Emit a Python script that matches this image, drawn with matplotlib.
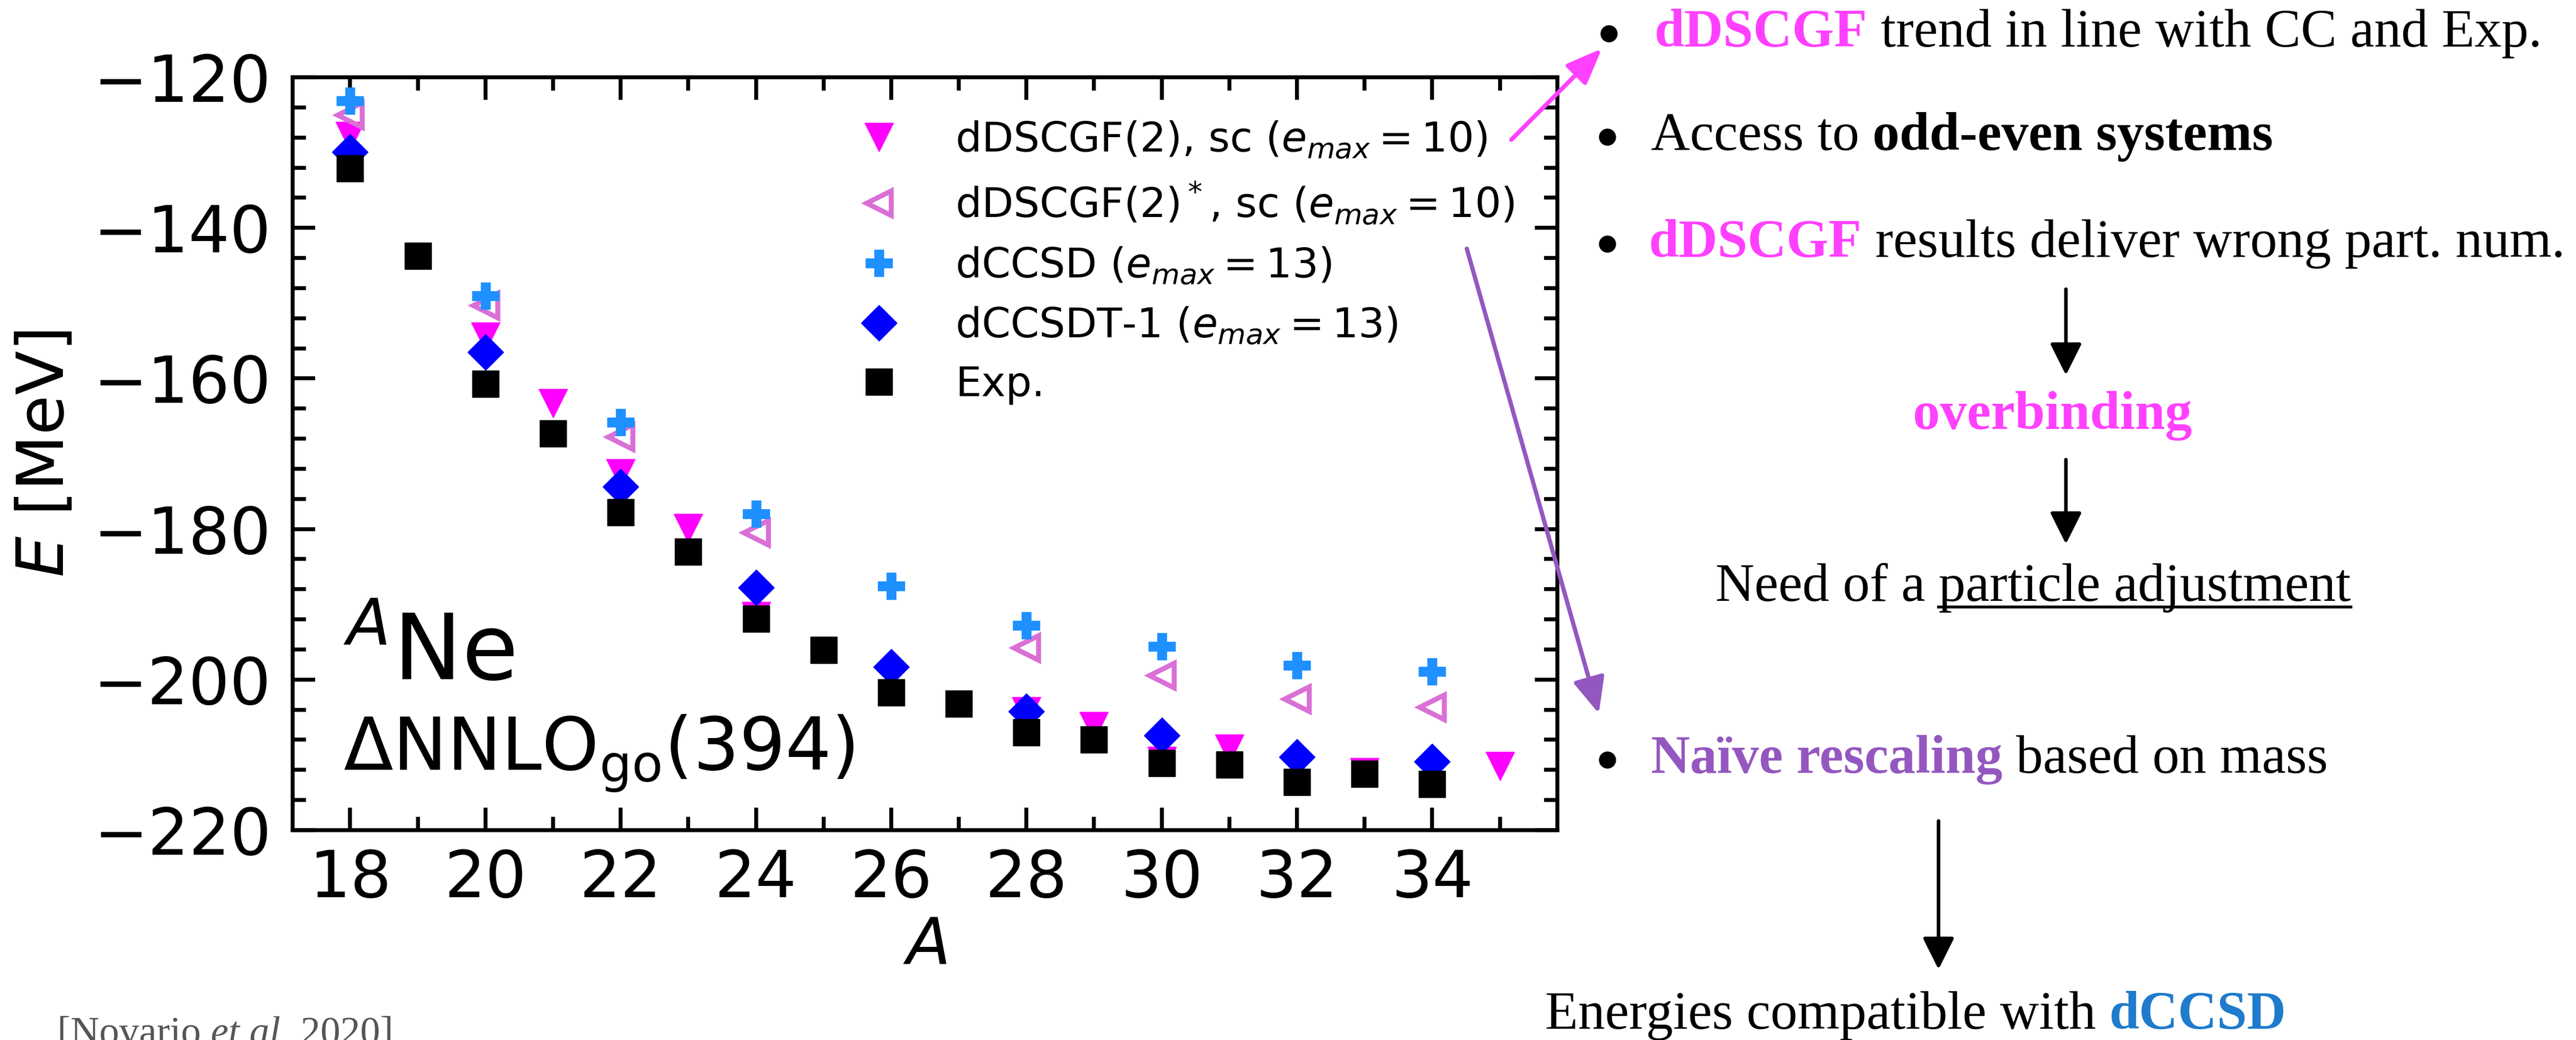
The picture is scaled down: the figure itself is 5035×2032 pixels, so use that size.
import matplotlib
matplotlib.use("Agg")
import matplotlib.pyplot as plt
from matplotlib.ticker import MultipleLocator
from matplotlib.patches import Circle
from matplotlib.lines import Line2D

# ---------------- data ----------------
A_sc = [18, 20, 21, 22, 23, 24, 28, 29, 30, 31, 33, 35]
E_sc = [-127.8, -154.5, -163.3, -172.6, -179.9, -191.6, -204.2, -206.2, -210.8, -209.2, -212.3, -211.5]

A_scs = [18, 20, 22, 24, 28, 30, 32, 34]
E_scs = [-125.0, -150.3, -167.8, -180.5, -195.8, -199.5, -202.6, -203.7]

A_ccsd = [18, 20, 22, 24, 26, 28, 30, 32, 34]
E_ccsd = [-123.1, -149.0, -165.8, -178.0, -187.6, -192.8, -195.6, -198.1, -198.9]

A_cct = [18, 20, 22, 24, 26, 28, 30, 32, 34]
E_cct = [-129.9, -156.5, -174.4, -187.8, -198.3, -204.2, -207.4, -210.3, -210.9]

A_exp = [18, 19, 20, 21, 22, 23, 24, 25, 26, 27, 28, 29, 30, 31, 32, 33, 34]
E_exp = [-132.1, -143.7, -160.7, -167.3, -177.8, -183.0, -191.9, -196.1, -201.7,
         -203.2, -207.0, -208.0, -211.1, -211.3, -213.6, -212.5, -213.9]

labels = [r"dDSCGF(2), sc ($e_{max}=10$)",
          r"dDSCGF(2)$^*$, sc ($e_{max}=10$)",
          r"dCCSD ($e_{max}=13$)",
          r"dCCSDT-1 ($e_{max}=13$)",
          r"Exp."]

W, H = 5035, 2032
DPI = 100
fig = plt.figure(figsize=(W / DPI, H / DPI), dpi=DPI)
ax = fig.add_axes([572 / W, (H - 1622) / H, 2472 / W, 1471 / H])

ax.plot(A_sc, E_sc, "v", color="magenta", ms=40, ls="none", label=labels[0])
ax.plot(A_scs, E_scs, "<", mfc="none", mec="orchid", mew=7, ms=34, ls="none", label=labels[1])
ax.plot(A_ccsd, E_ccsd, "P", color="dodgerblue", ms=37, ls="none", label=labels[2])
ax.plot(A_cct, E_cct, "D", color="blue", ms=36, ls="none", label=labels[3])
ax.plot(A_exp, E_exp, "s", color="black", ms=37, ls="none", label=labels[4])

ax.set_ylim(-220, -120)
ax.xaxis.set_major_locator(MultipleLocator(2))
ax.xaxis.set_minor_locator(MultipleLocator(1))
ax.yaxis.set_major_locator(MultipleLocator(20))
ax.yaxis.set_minor_locator(MultipleLocator(4))
ax.tick_params(which="both", direction="in", top=True, right=True, width=5.5, labelsize=91)
ax.tick_params(which="major", length=32)
ax.tick_params(which="minor", length=19)
ax.tick_params(axis="y", pad=30)
ax.tick_params(axis="x", pad=25)
for sp in ax.spines.values():
    sp.set_linewidth(5.5)

ax.set_ylabel(r"$E$ [MeV]", fontsize=91, labelpad=24)
ax.set_xlabel(r"$A$", fontsize=91, labelpad=6)

ax.legend(loc="upper left", bbox_to_anchor=(0.431, 0.944), borderaxespad=0, borderpad=0,
          handlelength=2.0, handletextpad=0.85, labelspacing=0.46, frameon=False,
          fontsize=58, numpoints=1)

ax.text(0.04, 0.20, r"$^{A}$Ne", transform=ax.transAxes, fontsize=129, va="baseline", ha="left")
ax.text(0.04, 0.0795, r"$\Delta$NNLO$_{\rm go}$(394)", transform=ax.transAxes, fontsize=102,
        va="baseline", ha="left")

# ---------------- overlay for the slide text ----------------
ov = fig.add_axes([0, 0, 1, 1], zorder=5)
ov.set_xlim(0, W)
ov.set_ylim(H, 0)
ov.axis("off")
ov.patch.set_alpha(0)

SERIF = ["Liberation Serif", "DejaVu Serif"]
FS = 76
MAG = "#FF40FF"
PUR = "#9457BF"
BLU = "#1F7BCB"


def seq_text(x, y, parts, size=FS, ha_first="left"):
    t = None
    out = []
    for s, c, w, st in parts:
        if t is None:
            t = ov.text(x, y, s, color=c, fontweight=w, fontstyle=st, fontsize=size,
                        family=SERIF, va="baseline", ha=ha_first)
        else:
            t = ov.annotate(s, xy=(1, 0), xycoords=t, va="bottom", ha="left", color=c,
                            fontweight=w, fontstyle=st, fontsize=size, family=SERIF)
        out.append(t)
    return out


def bullet(x, y):
    ov.add_patch(Circle((x, y), 16, color="black", zorder=6))


bullet(3145, 66)
seq_text(3234, 91, [("dDSCGF", MAG, "bold", "normal"),
                    (" trend in line with CC and Exp.", "black", "normal", "normal")])
bullet(3142, 268)
seq_text(3227, 293, [("Access to ", "black", "normal", "normal"),
                     ("odd-even systems", "black", "bold", "normal")])
bullet(3142, 477)
seq_text(3223, 502, [("dDSCGF", MAG, "bold", "normal"),
                     (" results deliver wrong part. num.", "black", "normal", "normal")])

ov.text(4012, 838, "overbinding", color=MAG, fontweight="bold", fontsize=FS, family=SERIF,
        va="baseline", ha="center")

need = seq_text(3353, 1174, [("Need of a ", "black", "normal", "normal"),
                             ("particle adjustment", "black", "normal", "normal")])

bullet(3142, 1485)
seq_text(3227, 1510, [("Naïve rescaling", PUR, "bold", "normal"),
                      (" based on mass", "black", "normal", "normal")])

seq_text(3020, 2010, [("Energies compatible with ", "black", "normal", "normal"),
                      ("dCCSD", BLU, "bold", "normal")])

seq_text(112, 2040, [("[Novario ", "#555555", "normal", "normal"),
                     ("et al.", "#555555", "normal", "italic"),
                     (" 2020]", "#555555", "normal", "normal")], size=56)

blk = dict(arrowstyle="-|>,head_length=0.4,head_width=0.2", color="black", lw=5,
           mutation_scale=95, shrinkA=0, shrinkB=0)
ov.annotate("", xy=(4038, 733), xytext=(4038, 565), arrowprops=blk)
ov.annotate("", xy=(4038, 1063), xytext=(4038, 898), arrowprops=blk)
ov.annotate("", xy=(3789, 1894), xytext=(3789, 1604), arrowprops=blk)

ov.annotate("", xy=(3131, 95), xytext=(2954, 273),
            arrowprops=dict(arrowstyle="-|>,head_length=0.45,head_width=0.18", color=MAG, lw=6,
                            mutation_scale=95, shrinkA=0, shrinkB=0))
ov.annotate("", xy=(3125, 1394), xytext=(2867, 486),
            arrowprops=dict(arrowstyle="-|>,head_length=0.45,head_width=0.2", color=PUR, lw=6,
                            mutation_scale=95, shrinkA=0, shrinkB=0))

# underline of "particle adjustment"
fig.canvas.draw()
r = fig.canvas.get_renderer()
bb = need[1].get_window_extent(r)
uy = (H - 1186) / H
fig.add_artist(Line2D([bb.x0 / W, bb.x1 / W], [uy, uy], transform=fig.transFigure,
                      color="black", lw=4))

fig.savefig("out.png", dpi=DPI)
